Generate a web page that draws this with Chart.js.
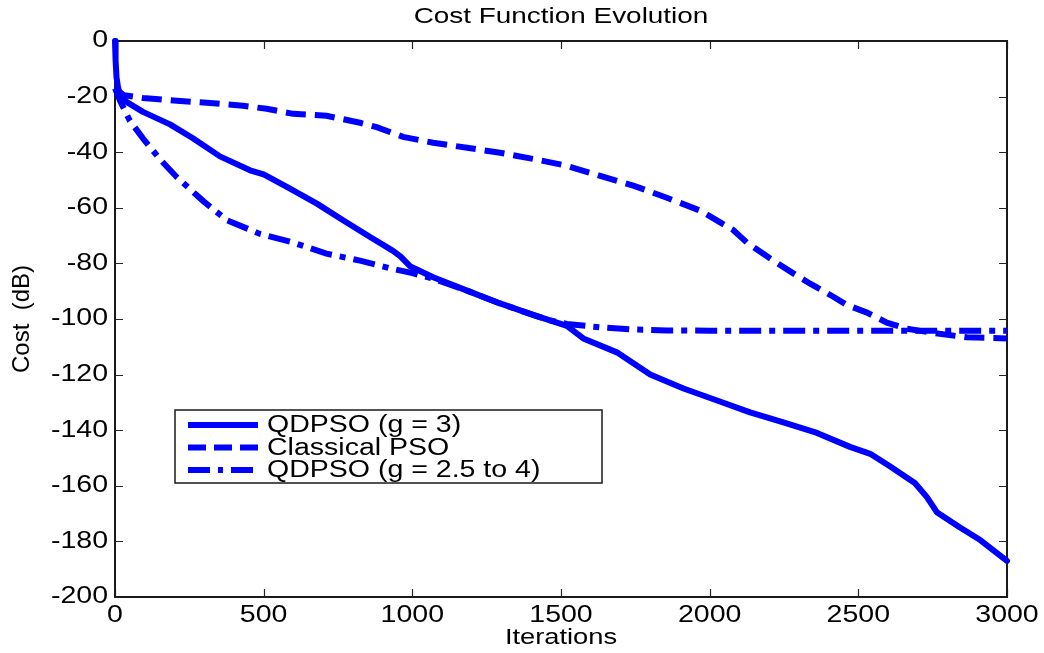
<!DOCTYPE html>
<html>
<head>
<meta charset="utf-8">
<title>Cost Function Evolution</title>
<script src="https://cdn.jsdelivr.net/npm/chart.js@4/dist/chart.umd.min.js"></script>
<style>
  html, body { margin: 0; padding: 0; background: #ffffff; }
  #wrap { width: 1044px; height: 653px; position: relative; }
</style>
</head>
<body>
<div id="wrap"><canvas id="cost"></canvas></div>
<script>
// QDPSO (g = 3) — solid
const qdIter = [0, 2, 5, 10, 17, 40, 94, 185, 262, 353, 454, 500, 578, 679, 767, 858, 935, 960, 992,
  1070, 1184, 1295, 1406, 1463, 1520, 1575, 1688, 1800, 1912, 2025, 2136, 2248, 2361, 2472, 2540,
  2606, 2641, 2690, 2730, 2764, 2842, 2910, 3000];
const qdCost = [0, -7, -13, -16.5, -19.5, -22, -25.5, -30, -35, -41.5, -46.5, -48, -52.5, -58.5, -64.5, -70.5, -75.5, -77.5, -81,
  -85, -89.8, -94.4, -98.5, -100.5, -102.5, -107, -112, -120, -125, -129.3, -133.6, -137.2, -141, -146, -148.5,
  -153, -155.5, -159, -164, -169.5, -175, -179.5, -187];

// Classical PSO — dashed
const psoIter = [0, 7, 30, 94, 208, 320, 431, 510, 599, 711, 824, 880, 969, 1070, 1184, 1295, 1406, 1520,
  1632, 1743, 1856, 1968, 2079, 2125, 2200, 2280, 2338, 2416, 2462, 2529, 2596, 2664, 2751, 2865, 3000];
const psoCost = [-17.5, -17.5, -19.5, -20.5, -21.5, -22.3, -23.3, -24.4, -26.2, -26.9, -29.4, -31, -34.5, -36.6, -38.4, -40.2, -42.4, -44.9,
  -48.5, -52, -56.4, -61, -68, -72.5, -78, -83.5, -87.3, -92, -95, -97.7, -101.3, -103.5, -105, -106.6, -107];

// QDPSO (g = 2.5 to 4) — dash-dot
const qdvIter = [0, 17, 50, 94, 151, 208, 296, 377, 488, 599, 711, 824, 935, 1000, 1070, 1184, 1295, 1406,
  1463, 1520, 1632, 1750, 1856, 2000, 3000];
const qdvCost = [-17, -21.5, -28.7, -35, -42.5, -49, -57.5, -64.5, -69.4, -72.5, -76.5, -79, -82, -83.5, -85.5, -89.8, -94.4, -98.5,
  -100.5, -101.8, -103, -103.8, -104.1, -104.2, -104.2];

const seriesNames = ['QDPSO (g = 3)', 'Classical PSO', 'QDPSO (g = 2.5 to 4)'];
const xTicks = [0, 500, 1000, 1500, 2000, 2500, 3000];
const yTicks = [0, -20, -40, -60, -80, -100, -120, -140, -160, -180, -200];

const BLUE = '#0000ff';
const FONT = '"Liberation Sans", Arial, Helvetica, sans-serif';
const WIDE = 1.24;            // horizontal widening of upright lettering
const DASH = [20, 9];
const DASHDOT = [22, 8, 6, 8];

const canvas = document.getElementById('cost');
const ctx = canvas.getContext('2d');

// Upright text is drawn horizontally widened; rotated text is left as is.
(function widenText(c) {
  const fill = c.fillText.bind(c);
  c.fillText = function (text, x, y, maxWidth) {
    const m = c.getTransform();
    if (Math.abs(m.b) > 1e-6 || Math.abs(m.c) > 1e-6) {
      return maxWidth === undefined ? fill(text, x, y) : fill(text, x, y, maxWidth);
    }
    c.save();
    c.translate(x, y);
    c.scale(WIDE, 1);
    fill(text, 0, 0);
    c.restore();
  };
})(ctx);

const pts = (xs, ys) => xs.map((v, i) => ({ x: v, y: ys[i] }));

// Axes box with inward tick marks, plot title and boxed legend
const frame = {
  id: 'frame',
  beforeDatasetsDraw(chart) {
    const { ctx: c, chartArea: a, scales: { x, y } } = chart;
    c.save();
    c.strokeStyle = '#262626';
    c.lineWidth = 1.2;
    c.beginPath();
    xTicks.forEach(v => {
      const px = Math.round(x.getPixelForValue(v)) + 0.5;
      c.moveTo(px, a.bottom); c.lineTo(px, a.bottom - 8);
      c.moveTo(px, a.top); c.lineTo(px, a.top + 8);
    });
    yTicks.forEach(v => {
      const py = Math.round(y.getPixelForValue(v)) + 0.5;
      c.moveTo(a.left, py); c.lineTo(a.left + 8, py);
      c.moveTo(a.right, py); c.lineTo(a.right - 8, py);
    });
    c.stroke();
    c.lineWidth = 2;
    c.strokeStyle = '#1a1a1a';
    c.strokeRect(a.left, a.top, a.right - a.left, a.bottom - a.top);
    c.restore();
  },
  afterDraw(chart) {
    const { ctx: c, chartArea: a } = chart;
    c.save();
    // title
    c.fillStyle = '#000';
    c.font = '22.5px ' + FONT;
    c.textAlign = 'center';
    c.textBaseline = 'middle';
    c.fillText('Cost Function Evolution', (a.left + a.right) / 2, 17);

    // legend
    const lx = 175, ly = 410, lw = 427, lh = 73;
    c.fillStyle = '#fff';
    c.fillRect(lx, ly, lw, lh);
    c.lineWidth = 1.5;
    c.strokeStyle = '#1a1a1a';
    c.setLineDash([]);
    c.strokeRect(lx, ly, lw, lh);
    const rows = [425, 447.5, 470];
    const dashes = [[], [18, 8], [22, 8, 5, 8]];
    rows.forEach((ry, i) => {
      c.beginPath();
      c.setLineDash(dashes[i]);
      c.lineWidth = 6;
      c.lineCap = 'butt';
      c.strokeStyle = BLUE;
      c.moveTo(188, ry); c.lineTo(258, ry);
      c.stroke();
      c.setLineDash([]);
      c.fillStyle = '#000';
      c.font = '23px ' + FONT;
      c.textAlign = 'left';
      c.textBaseline = 'middle';
      c.fillText(seriesNames[i], 267, ry + 1);
    });
    c.restore();
  }
};

new Chart(ctx, {
  type: 'line',
  data: {
    datasets: [
      { label: seriesNames[0], data: pts(qdIter, qdCost), borderColor: BLUE, borderWidth: 6,
        borderJoinStyle: 'round', borderCapStyle: 'round' },
      { label: seriesNames[1], data: pts(psoIter, psoCost), borderColor: BLUE, borderWidth: 6,
        borderDash: DASH, borderCapStyle: 'butt' },
      { label: seriesNames[2], data: pts(qdvIter, qdvCost), borderColor: BLUE, borderWidth: 6,
        borderDash: DASHDOT, borderCapStyle: 'butt' }
    ]
  },
  options: {
    responsive: true,
    maintainAspectRatio: false,
    animation: false,
    events: [],
    layout: { padding: { left: 0, right: 37, top: 41, bottom: 0 } },
    elements: { point: { radius: 0 }, line: { tension: 0, fill: false } },
    datasets: { line: { clip: false } },
    plugins: { legend: { display: false }, title: { display: false }, tooltip: { enabled: false } },
    scales: {
      x: {
        type: 'linear', min: 0, max: 3000,
        afterBuildTicks: s => { s.ticks = xTicks.map(v => ({ value: v })); },
        afterFit: s => { s.height = 56; },
        grid: { display: false, drawTicks: false },
        border: { display: false },
        ticks: { color: '#000', font: { family: FONT, size: 23 }, padding: 5,
                 autoSkip: false, maxRotation: 0, minRotation: 0,
                 callback: v => String(v) },
        title: { display: true, text: 'Iterations', color: '#000',
                 font: { family: FONT, size: 22 }, padding: { top: 0, bottom: 2 } }
      },
      y: {
        type: 'linear', min: -200, max: 0,
        afterBuildTicks: s => { s.ticks = yTicks.map(v => ({ value: v })); },
        afterFit: s => { s.width = 115; },
        grid: { display: false, drawTicks: false },
        border: { display: false },
        ticks: { color: '#000', font: { family: FONT, size: 23 }, padding: 7, autoSkip: false,
                 callback: v => String(v) },
        title: { display: true, text: 'Cost\u00a0\u00a0(dB)', color: '#000',
                 font: { family: FONT, size: 24 }, padding: { top: 8, bottom: 0 } }
      }
    }
  },
  plugins: [frame]
});
</script>
</body>
</html>
